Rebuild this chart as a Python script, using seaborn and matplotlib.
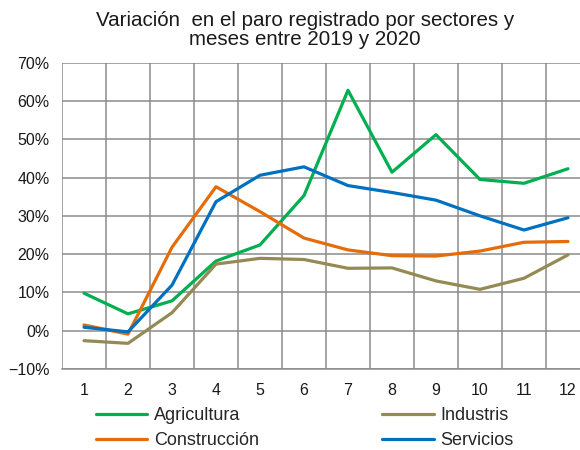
import matplotlib
matplotlib.use("Agg")
import matplotlib.pyplot as plt
import pandas as pd
import seaborn as sns
from matplotlib.ticker import FixedLocator, PercentFormatter

months = list(range(1, 13))
agricultura = [9.8, 4.4, 7.8, 18.2, 22.4, 35.3, 62.8, 41.4, 51.2, 39.5, 38.5, 42.3]
industris = [-2.6, -3.3, 4.7, 17.4, 18.9, 18.6, 16.3, 16.4, 13.0, 10.8, 13.7, 19.8]
construccion = [1.5, -0.9, 21.8, 37.6, 31.1, 24.2, 21.1, 19.6, 19.5, 20.8, 23.1, 23.3]
servicios = [0.9, -0.3, 11.9, 33.7, 40.6, 42.8, 37.9, 36.1, 34.1, 30.0, 26.3, 29.5]

sectors = ["Agricultura", "Industris", "Construcción", "Servicios"]
colors = {"Agricultura": "#00B050", "Industris": "#948A54",
          "Construcción": "#E46C0A", "Servicios": "#0070C0"}

df = pd.DataFrame({
    "mes": months * 4,
    "variacion": agricultura + industris + construccion + servicios,
    "sector": [s for s in sectors for _ in months],
})

sns.set_theme(style="white")
plt.rcParams["font.family"] = ["Liberation Sans", "DejaVu Sans"]

fig = plt.figure(figsize=(5.8, 4.5), dpi=100)
ax = fig.add_axes([0.1069, 0.18, 0.9103, 0.6807])

sns.lineplot(data=df, x="mes", y="variacion", hue="sector", hue_order=sectors,
             palette=colors, linewidth=2.3, ax=ax, legend=False)

ax.set_xlim(0.5, 12.5)
ax.set_ylim(-10, 70)
ax.set_xticks(months)
ax.xaxis.set_minor_locator(FixedLocator([m + 0.5 for m in range(0, 13)]))
ax.set_yticks(range(-10, 71, 10))
ax.yaxis.set_major_formatter(PercentFormatter(decimals=0))
ax.grid(axis="y", which="major", color="#8c8c8c", linewidth=1.1)
ax.grid(axis="x", which="minor", color="#8c8c8c", linewidth=1.1)
ax.set_axisbelow(True)
ax.tick_params(axis="both", which="both", length=0, labelsize=11.5, colors="#1a1a1a")
ax.tick_params(axis="x", pad=10)
ax.tick_params(axis="y", pad=9)
for side in ["top", "right", "left"]:
    ax.spines[side].set_visible(False)
ax.spines["bottom"].set_color("#8c8c8c")
ax.spines["bottom"].set_linewidth(1.1)
ax.set_xlabel("")
ax.set_ylabel("")

fig.suptitle("Variación  en el paro registrado por sectores y\nmeses entre 2019 y 2020",
             x=0.526, y=0.975, fontsize=14.8, color="#1a1a1a", linespacing=1.0)

# legend in the reference's order: left column Agricultura / Construcción
order = ["Agricultura", "Construcción", "Industris", "Servicios"]
handles = [plt.Line2D([], [], color=colors[s], linewidth=2.3) for s in order]
fig.legend(handles, order, ncol=2, loc="upper left", bbox_to_anchor=(0.15, 0.115),
           frameon=False, fontsize=13, handlelength=2.85, handletextpad=0.35,
           columnspacing=6.85, labelspacing=0.42, borderpad=0.0)

fig.savefig("out.png", dpi=100)
